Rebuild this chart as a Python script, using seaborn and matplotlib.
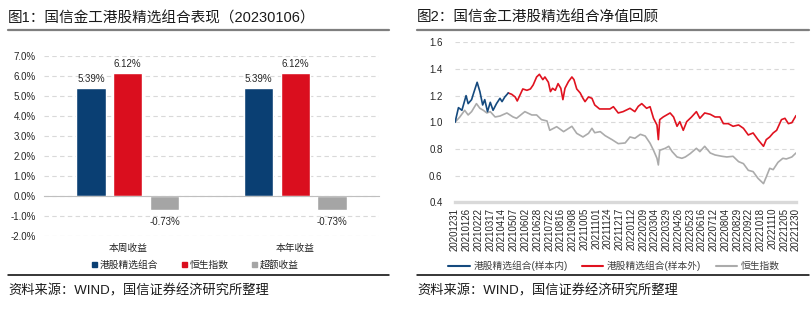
import matplotlib
matplotlib.use("Agg")
import matplotlib.pyplot as plt
import seaborn as sns
import pandas as pd
from matplotlib.lines import Line2D
from matplotlib.patches import Patch
from matplotlib.ticker import FuncFormatter

# ---------------- data ----------------
bar_categories = ["本周收益", "本年收益"]
bar_series = ["港股精选组合", "恒生指数", "超额收益"]
week_returns = [5.39, 6.12, -0.73]
ytd_returns = [5.39, 6.12, -0.73]

# trading-day index -> net value
insample_day = [0, 1, 5, 10, 16, 19, 24, 27, 32, 36, 40, 43, 47, 51, 55, 60, 65, 68, 72, 77]
insample_val = [1.00, 1.02, 1.11, 1.09, 1.20, 1.14, 1.17, 1.22, 1.30, 1.23, 1.13, 1.17, 1.08,
                1.15, 1.09, 1.14, 1.18, 1.155, 1.19, 1.22]

outsample_day = [77, 82, 87, 90, 94, 98, 104, 109, 113, 118, 122, 127, 130, 135, 138, 141, 145,
                 149, 153, 156, 159, 164, 169, 172, 176, 181, 185, 188, 193, 198, 202, 209, 224,
                 229, 236, 243, 253, 260, 265, 270, 277, 282, 287, 292, 294, 296, 301, 306, 311,
                 316, 321, 325, 330, 335, 342, 349, 354, 361, 369, 376, 383, 388, 395, 402, 410,
                 417, 424, 431, 438, 446, 450, 455, 460, 465, 472, 477, 482, 487, 493]
outsample_val = [1.22, 1.21, 1.19, 1.16, 1.205, 1.25, 1.24, 1.25, 1.28, 1.34, 1.36, 1.32, 1.34,
                 1.30, 1.23, 1.255, 1.24, 1.29, 1.255, 1.17, 1.255, 1.305, 1.34, 1.32, 1.25, 1.22,
                 1.18, 1.155, 1.19, 1.18, 1.13, 1.10, 1.10, 1.117, 1.07, 1.08, 1.105, 1.08, 1.12,
                 1.14, 1.105, 1.117, 1.03, 0.98, 0.87, 1.02, 1.04, 1.055, 1.07, 1.04, 0.97, 1.005,
                 0.94, 1.005, 1.04, 1.08, 1.03, 1.07, 1.06, 1.04, 1.04, 0.99, 0.99, 0.97, 0.98,
                 0.955, 0.905, 0.92, 0.87, 0.82, 0.87, 0.89, 0.92, 0.94, 1.02, 1.03, 0.99, 0.997,
                 1.05]

hsi_day = [0, 7, 14, 19, 24, 31, 36, 41, 46, 51, 58, 65, 75, 84, 89, 101, 111, 118, 125, 133,
           137, 147, 157, 169, 176, 185, 193, 198, 202, 210, 217, 227, 236, 246, 253, 260, 268,
           275, 282, 287, 292, 294, 296, 304, 309, 314, 321, 328, 333, 340, 349, 354, 361, 369,
           376, 386, 393, 402, 410, 417, 424, 431, 438, 446, 450, 455, 460, 467, 474, 479, 487,
           493]
hsi_val = [1.00, 1.04, 1.09, 1.055, 1.08, 1.14, 1.105, 1.09, 1.07, 1.08, 1.04, 1.047, 1.07,
           1.04, 1.03, 1.08, 1.055, 1.055, 1.02, 1.01, 0.94, 0.967, 0.93, 0.97, 0.917, 0.89,
           0.917, 0.955, 0.922, 0.93, 0.90, 0.87, 0.84, 0.845, 0.89, 0.88, 0.91, 0.897, 0.843,
           0.79, 0.73, 0.68, 0.79, 0.805, 0.82, 0.78, 0.74, 0.73, 0.74, 0.765, 0.805, 0.78, 0.82,
           0.77, 0.755, 0.745, 0.74, 0.745, 0.705, 0.69, 0.64, 0.63, 0.58, 0.54, 0.59, 0.655,
           0.645, 0.70, 0.73, 0.725, 0.74, 0.77]

date_labels = ["20201231", "20210126", "20210222", "20210317", "20210414", "20210507",
               "20210602", "20210628", "20210722", "20210816", "20210908", "20211005",
               "20211101", "20211124", "20211217", "20220112", "20220209", "20220304",
               "20220329", "20220426", "20220523", "20220616", "20220712", "20220804",
               "20220829", "20220922", "20221018", "20221110", "20221205", "20221230"]
tick_step = 17

# ---------------- style ----------------
sns.set_theme(style="white")
plt.rcParams["font.family"] = ["Liberation Sans", "Noto Sans CJK SC"]
plt.rcParams["axes.unicode_minus"] = False

W, H = 811, 334
def fx(px):
    return px / W
def fy(py):
    return 1 - py / H

NAVY, RED, GREY = "#0A3F73", "#DA0E1E", "#A5A5A5"
TXT = "#262626"
GRID = "#d9d9d9"

fig = plt.figure(figsize=(W / 100, H / 100), dpi=100)

# ---------------- left: bar chart ----------------
df = pd.DataFrame({
    "类别": [c for c in bar_categories for _ in bar_series],
    "组合": bar_series * len(bar_categories),
    "收益": week_returns + ytd_returns,
})
ax1 = fig.add_axes([fx(44), fy(235.7), fx(379) - fx(44), (235.7 - 55.7) / H])
sns.barplot(data=df, x="类别", y="收益", hue="组合", hue_order=bar_series,
            palette=dict(zip(bar_series, [NAVY, RED, GREY])), saturation=1,
            width=0.66, gap=0.2, ax=ax1, legend=False)
ax1.set_xlim(-0.5, 1.5)
ax1.set_ylim(-2, 7)
ax1.set_yticks(range(-2, 8))
ax1.yaxis.set_major_formatter(FuncFormatter(lambda v, _: f"{v:.1f}%"))
ax1.yaxis.grid(True, linestyle=(0, (4, 3)), color=GRID, lw=0.8)
ax1.set_axisbelow(True)
for s in ("left", "right", "top"):
    ax1.spines[s].set_visible(False)
ax1.spines["bottom"].set_position(("data", 0))
ax1.spines["bottom"].set_color("#bfbfbf")
ax1.spines["bottom"].set_linewidth(0.8)
ax1.set_xticks([-0.5, 0.5, 1.5], minor=True)
ax1.tick_params(axis="x", which="minor", length=3, width=0.8, color="#bfbfbf", direction="out")
ax1.tick_params(axis="x", which="major", length=0, pad=34, labelsize=7, labelcolor=TXT)
ax1.tick_params(axis="y", length=0, pad=6, labelsize=7, labelcolor=TXT)
ax1.set_xlabel("")
ax1.set_ylabel("")
for cont in ax1.containers:
    vals = list(cont.datavalues)
    pad = 5 if min(vals) < 0 else 3
    ax1.bar_label(cont, labels=[f"{v:.2f}%" for v in vals], padding=pad,
                  fontsize=7, color=TXT)

bar_handles = [Patch(color=c) for c in (NAVY, RED, GREY)]
fig.legend(bar_handles, bar_series, loc="center", bbox_to_anchor=(fx(195.5), fy(265)),
           ncol=3, frameon=False, fontsize=7, handlelength=0.5, handleheight=0.5,
           handletextpad=0.3, columnspacing=2.4, borderpad=0, labelcolor=TXT)

# ---------------- right: net value lines ----------------
ax2 = fig.add_axes([fx(455), fy(202.3), fx(796) - fx(455), 160 / H])
sns.lineplot(x=hsi_day, y=hsi_val, color="#ABABAB", lw=1.2, ax=ax2,
             estimator=None, sort=False)
sns.lineplot(x=outsample_day, y=outsample_val, color="#E0121F", lw=1.2, ax=ax2,
             estimator=None, sort=False)
sns.lineplot(x=insample_day, y=insample_val, color="#154A7E", lw=1.2, ax=ax2,
             estimator=None, sort=False)
ax2.set_xlim(0, tick_step * (len(date_labels) - 1))
ax2.set_ylim(0.4, 1.6)
ax2.set_yticks([0.4, 0.6, 0.8, 1.0, 1.2, 1.4, 1.6])
ax2.yaxis.set_major_formatter(FuncFormatter(lambda v, _: f"{v:.1f}"))
ax2.set_xticks([tick_step * i for i in range(len(date_labels))])
ax2.set_xticklabels(date_labels, rotation=90)
ax2.yaxis.grid(True, linestyle=(0, (4, 3)), color=GRID, lw=0.8)
ax2.set_axisbelow(True)
for s in ("left", "right", "top"):
    ax2.spines[s].set_visible(False)
ax2.spines["bottom"].set_color(GRID)
ax2.spines["bottom"].set_linewidth(2.4)
ax2.spines["bottom"].set_zorder(0.5)
ax2.tick_params(axis="x", length=0, pad=4, labelsize=7, labelcolor=TXT)
ax2.tick_params(axis="y", length=0, pad=9, labelsize=7, labelcolor=TXT)
ax2.set_xlabel("")
ax2.set_ylabel("")

line_handles = [Line2D([], [], color=c, lw=1.5) for c in ("#154A7E", "#E0121F", "#ABABAB")]
fig.legend(line_handles, ["港股精选组合(样本内)", "港股精选组合(样本外)", "恒生指数"],
           loc="center", bbox_to_anchor=(fx(614), fy(265.7)), ncol=3, frameon=False,
           fontsize=7, handlelength=2.2, handletextpad=0.35, columnspacing=1.5,
           borderpad=0, labelcolor="#404040")

# ---------------- titles, rules and source notes ----------------
for x0, x1, title in ((8, 389, "图1：国信金工港股精选组合表现（20230106）"),
                      (417, 809, "图2：国信金工港股精选组合净值回顾")):
    fig.text(fx(x0), fy(18), title, fontsize=10.5, ha="left", va="center", color="#1a1a1a")
    fig.add_artist(Line2D([fx(x0), fx(x1)], [fy(29.5), fy(29.5)], color="#7f7f7f", lw=1.6))
    fig.add_artist(Line2D([fx(x0), fx(x1)], [fy(275), fy(275)], color="black", lw=1.1))
    fig.text(fx(x0), fy(291), "资料来源：WIND，国信证券经济研究所整理", fontsize=9.5,
             ha="left", va="center", color="#1a1a1a")

fig.savefig("out.png", dpi=100)
